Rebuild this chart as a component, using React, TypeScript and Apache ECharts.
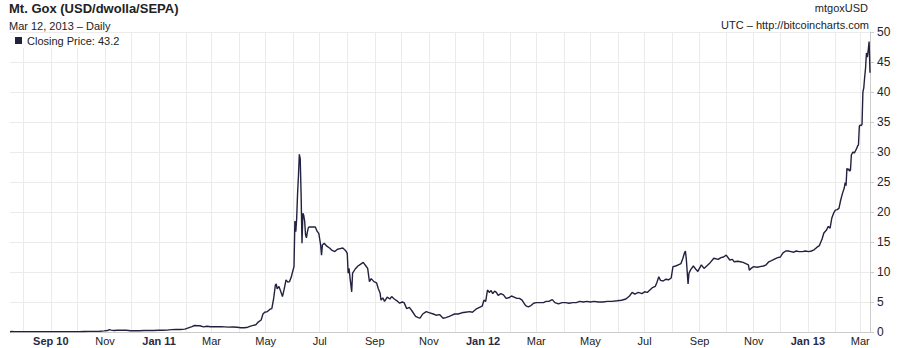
import React, { useEffect, useRef } from "react";
import * as echarts from "echarts";

// ---- data ----
const dates2010 = ["2010-07-17","2010-07-19","2010-07-22","2010-07-27","2010-08-01","2010-08-08","2010-08-15","2010-08-22","2010-08-29","2010-09-05","2010-09-12","2010-09-19","2010-09-26","2010-10-03","2010-10-08","2010-10-14","2010-10-20","2010-10-26","2010-10-31","2010-11-04","2010-11-06","2010-11-08","2010-11-11","2010-11-15","2010-11-20","2010-11-25","2010-11-30","2010-12-05","2010-12-10","2010-12-15","2010-12-20","2010-12-26","2010-12-31"];
const prices2010 = [0.05,0.08,0.06,0.06,0.07,0.07,0.067,0.066,0.064,0.062,0.062,0.062,0.062,0.062,0.09,0.10,0.10,0.13,0.19,0.24,0.39,0.32,0.26,0.28,0.28,0.28,0.21,0.20,0.21,0.24,0.25,0.25,0.30];

const dates2011 = ["2011-01-05","2011-01-10","2011-01-15","2011-01-20","2011-01-25","2011-01-30","2011-02-03","2011-02-07","2011-02-10","2011-02-13","2011-02-16","2011-02-20","2011-02-24","2011-02-28","2011-03-04","2011-03-08","2011-03-12","2011-03-16","2011-03-20","2011-03-25","2011-03-30","2011-04-03","2011-04-07","2011-04-11","2011-04-14","2011-04-17","2011-04-20","2011-04-23","2011-04-26","2011-04-28","2011-04-30","2011-05-03","2011-05-06","2011-05-08","2011-05-10","2011-05-12","2011-05-13","2011-05-14","2011-05-16","2011-05-18","2011-05-20","2011-05-22","2011-05-24","2011-05-26","2011-05-28","2011-05-30","2011-05-31","2011-06-02","2011-06-03","2011-06-04","2011-06-05","2011-06-06","2011-06-07","2011-06-08","2011-06-09","2011-06-10","2011-06-11","2011-06-12","2011-06-13","2011-06-14","2011-06-15","2011-06-16","2011-06-17","2011-06-18","2011-06-19","2011-06-26","2011-06-28","2011-06-30","2011-07-02","2011-07-03","2011-07-04","2011-07-06","2011-07-09","2011-07-12","2011-07-15","2011-07-18","2011-07-21","2011-07-24","2011-07-27","2011-07-30","2011-08-01","2011-08-02","2011-08-03","2011-08-04","2011-08-06","2011-08-07","2011-08-10","2011-08-13","2011-08-15","2011-08-19","2011-08-22","2011-08-24","2011-08-26","2011-08-28","2011-08-31","2011-09-03","2011-09-05","2011-09-07","2011-09-08","2011-09-10","2011-09-12","2011-09-15","2011-09-18","2011-09-20","2011-09-23","2011-09-26","2011-09-29","2011-10-02","2011-10-04","2011-10-07","2011-10-10","2011-10-13","2011-10-17","2011-10-20","2011-10-22","2011-10-25","2011-10-29","2011-11-02","2011-11-06","2011-11-09","2011-11-13","2011-11-17","2011-11-20","2011-11-24","2011-11-27","2011-11-30","2011-12-04","2011-12-08","2011-12-12","2011-12-17","2011-12-20","2011-12-24","2011-12-28","2011-12-31"];
const prices2011 = [0.30,0.32,0.39,0.42,0.41,0.48,0.70,0.90,1.08,1.05,1.04,0.86,0.95,0.88,0.90,0.87,0.88,0.86,0.82,0.84,0.78,0.72,0.70,0.80,0.97,1.10,1.20,1.70,2.0,3.0,3.3,3.4,3.8,3.9,5.5,7.8,8.0,7.2,7.6,6.8,5.9,7.2,8.7,8.3,8.4,9.2,9.8,10.9,18.5,16.7,18.9,23.0,26.0,29.6,28.9,23.0,14.8,19.8,19.4,18.5,16.2,15.7,16.6,17.3,17.5,17.5,16.8,16.4,14.5,12.8,14.5,14.8,14.3,14.0,13.6,13.4,13.8,13.9,14.0,13.6,13.1,9.8,10.6,9.2,6.7,9.8,10.5,11.0,11.2,11.6,11.0,10.6,8.4,8.9,8.4,8.2,7.2,6.5,5.3,5.7,5.1,5.8,5.5,5.9,5.5,5.2,4.8,5.0,4.9,3.9,4.1,3.5,2.6,2.4,2.3,3.0,3.4,3.2,3.0,2.8,2.9,2.3,2.4,2.6,2.8,3.0,3.0,3.2,3.3,3.4,3.3,3.8,4.1,4.3];

const dates2012 = ["2012-01-02","2012-01-04","2012-01-06","2012-01-08","2012-01-10","2012-01-12","2012-01-14","2012-01-16","2012-01-18","2012-01-21","2012-01-24","2012-01-27","2012-01-30","2012-02-02","2012-02-05","2012-02-08","2012-02-11","2012-02-14","2012-02-17","2012-02-19","2012-02-21","2012-02-24","2012-02-27","2012-03-01","2012-03-05","2012-03-09","2012-03-12","2012-03-15","2012-03-19","2012-03-22","2012-03-26","2012-03-30","2012-04-03","2012-04-07","2012-04-11","2012-04-15","2012-04-19","2012-04-23","2012-04-27","2012-05-01","2012-05-05","2012-05-10","2012-05-15","2012-05-20","2012-05-25","2012-05-31","2012-06-05","2012-06-10","2012-06-14","2012-06-17","2012-06-20","2012-06-24","2012-06-28","2012-07-01","2012-07-04","2012-07-07","2012-07-10","2012-07-13","2012-07-15","2012-07-17","2012-07-19","2012-07-22","2012-07-25","2012-07-28","2012-07-31","2012-08-02","2012-08-05","2012-08-08","2012-08-11","2012-08-13","2012-08-15","2012-08-16","2012-08-17","2012-08-19","2012-08-20","2012-08-22","2012-08-25","2012-08-28","2012-08-30","2012-09-03","2012-09-06","2012-09-09","2012-09-12","2012-09-17","2012-09-22","2012-09-25","2012-09-28","2012-10-01","2012-10-05","2012-10-08","2012-10-10","2012-10-14","2012-10-17","2012-10-20","2012-10-23","2012-10-26","2012-10-27","2012-10-29","2012-11-01","2012-11-05","2012-11-08","2012-11-12","2012-11-15","2012-11-18","2012-11-21","2012-11-25","2012-11-28","2012-12-01","2012-12-04","2012-12-07","2012-12-10","2012-12-13","2012-12-16","2012-12-19","2012-12-22","2012-12-26","2012-12-29"];
const prices2012 = [5.3,5.1,7.0,6.6,6.9,6.4,6.8,6.6,6.1,6.4,6.2,5.6,5.7,6.0,5.8,5.6,5.6,5.3,4.6,4.3,4.2,4.4,4.8,4.9,4.9,4.9,5.1,5.1,5.4,4.9,4.7,4.9,4.9,4.8,4.9,4.9,5.1,5.0,5.1,5.0,5.1,5.0,5.0,5.1,5.1,5.2,5.3,5.5,6.0,6.6,6.3,6.6,6.4,6.7,6.6,7.0,7.4,7.6,8.3,9.2,8.6,8.5,8.8,8.7,9.0,10.9,11.0,11.2,11.4,12.2,13.2,13.5,12.2,8.0,9.8,10.4,11.0,10.4,10.1,11.2,10.6,11.0,11.4,12.3,12.1,12.4,12.5,12.8,12.0,12.1,11.7,11.8,11.7,11.6,11.4,11.2,10.3,10.6,10.9,10.8,10.9,11.0,11.2,11.7,11.9,12.2,12.4,12.5,13.2,13.5,13.5,13.4,13.3,13.5,13.4,13.4,13.5];

const dates2013 = ["2013-01-02","2013-01-05","2013-01-08","2013-01-11","2013-01-14","2013-01-17","2013-01-19","2013-01-22","2013-01-24","2013-01-26","2013-01-28","2013-01-30","2013-02-01","2013-02-03","2013-02-05","2013-02-07","2013-02-09","2013-02-11","2013-02-12","2013-02-13","2013-02-14","2013-02-15","2013-02-16","2013-02-17","2013-02-18","2013-02-19","2013-02-20","2013-02-21","2013-02-22","2013-02-23","2013-02-24","2013-02-25","2013-02-26","2013-02-27","2013-02-28","2013-03-01","2013-03-02","2013-03-03","2013-03-04","2013-03-05","2013-03-06","2013-03-07","2013-03-08","2013-03-09","2013-03-10","2013-03-11","2013-03-12"];
const prices2013 = [13.4,13.5,13.7,14.1,14.4,15.5,16.5,17.0,17.6,17.3,19.0,19.8,20.3,20.4,20.6,22.0,23.1,24.0,24.9,24.4,27.3,27.0,27.2,26.8,27.0,29.5,29.8,30.0,29.8,30.0,30.3,30.6,31.0,31.2,34.3,34.5,34.4,34.6,40.0,40.7,42.5,44.0,46.5,45.8,47.0,48.4,43.2];

const startDate = "2010-07-17";
const endDate = "2013-03-12";
const monthNames = ["Jan","Feb","Mar","Apr","May","Jun","Jul","Aug","Sep","Oct","Nov","Dec"];
const yTicks = [0, 5, 10, 15, 20, 25, 30, 35, 40, 45, 50];

const FONT = '"Liberation Sans", Arial, Helvetica, sans-serif';

export default function App() {
  const ref = useRef<HTMLDivElement>(null);
  useEffect(() => {
    if (!ref.current) return;
    const chart = echarts.init(ref.current, null, { renderer: "svg" });
    const ts = (s: string) => new Date(s + "T00:00:00Z").getTime();
    const allDates = [...dates2010, ...dates2011, ...dates2012, ...dates2013];
    const allPrices = [...prices2010, ...prices2011, ...prices2012, ...prices2013];
    const data = allDates.map((d, i) => [ts(d), allPrices[i]]);

    const minT = ts(startDate);
    const maxT = ts(endDate);
    const monthTicks: number[] = [];
    const labelTicks: number[] = [];
    for (let y = 2010; y <= 2013; y++) {
      for (let m = 0; m < 12; m++) {
        const t = Date.UTC(y, m, 1);
        if (t < minT || t > maxT) continue;
        monthTicks.push(t);
        if (m % 2 === 0) labelTicks.push(t);
      }
    }
    const firstLabel = labelTicks[0];

    chart.setOption({
      animation: false,
      backgroundColor: "#ffffff",
      textStyle: { fontFamily: FONT },
      grid: { left: 10, right: 40, top: 32, bottom: 16, containLabel: false },
      legend: {
        left: 11,
        top: 33,
        icon: "rect",
        itemWidth: 7,
        itemHeight: 7,
        itemGap: 4,
        padding: [2, 4, 2, 4],
        backgroundColor: "#ffffff",
        textStyle: { fontSize: 11, color: "#222", fontFamily: FONT },
        data: ["Closing Price: 43.2"],
      },
      xAxis: {
        type: "value",
        min: minT,
        max: maxT,
        axisLine: { show: true, lineStyle: { color: "#cccccc", width: 1 } },
        axisTick: { show: false, customValues: monthTicks },
        splitLine: { show: true, lineStyle: { color: "#ebebeb", width: 1 } },
        axisLabel: {
          customValues: labelTicks,
          margin: 3,
          hideOverlap: false,
          fontSize: 11,
          color: "#222",
          fontFamily: FONT,
          formatter: (val: number) => {
            const d = new Date(val);
            const m = d.getUTCMonth();
            const yy = String(d.getUTCFullYear()).slice(2);
            if (m === 0 || val === firstLabel) return `{b|${monthNames[m]} ${yy}}`;
            return `{n|${monthNames[m]}}`;
          },
          rich: {
            b: { fontWeight: "bold", fontSize: 11, color: "#2a2a44", fontFamily: FONT },
            n: { fontSize: 11, color: "#222", fontFamily: FONT },
          },
        },
      },
      yAxis: {
        type: "value",
        position: "right",
        min: 0,
        max: 50,
        interval: 5,
        axisLine: { show: true, lineStyle: { color: "#cccccc", width: 1 } },
        axisTick: { show: true, length: 4, lineStyle: { color: "#cccccc" } },
        splitLine: { show: true, lineStyle: { color: "#ebebeb", width: 1 } },
        axisLabel: {
          margin: 7,
          fontSize: 12,
          color: "#222",
          fontFamily: FONT,
          formatter: (v: number) => (yTicks.includes(v) ? String(v) : ""),
        },
      },
      series: [
        {
          name: "Closing Price: 43.2",
          type: "line",
          data,
          showSymbol: false,
          symbol: "none",
          itemStyle: { color: "#222240" },
          lineStyle: { color: "#222240", width: 1.4 },
          z: 3,
        },
      ],
      graphic: [
        {
          type: "text",
          left: 9,
          top: 2,
          style: { text: "Mt. Gox (USD/dwolla/SEPA)", font: `bold 13px ${FONT}`, fill: "#222" },
        },
        {
          type: "text",
          left: 9,
          top: 20,
          style: { text: "Mar 12, 2013 \u2013 Daily", font: `11px ${FONT}`, fill: "#222" },
        },
        {
          type: "text",
          right: 42,
          top: 2,
          style: { text: "mtgoxUSD", font: `11px ${FONT}`, fill: "#222" },
        },
        {
          type: "text",
          right: 41,
          top: 19,
          style: { text: "UTC \u2013 http://bitcoincharts.com", font: `11px ${FONT}`, fill: "#222" },
        },
      ],
    });
    return () => chart.dispose();
  }, []);
  return (
    <div
      ref={ref}
      style={{ position: "fixed", left: 0, top: 0, width: 910, height: 348 }}
    />
  );
}
